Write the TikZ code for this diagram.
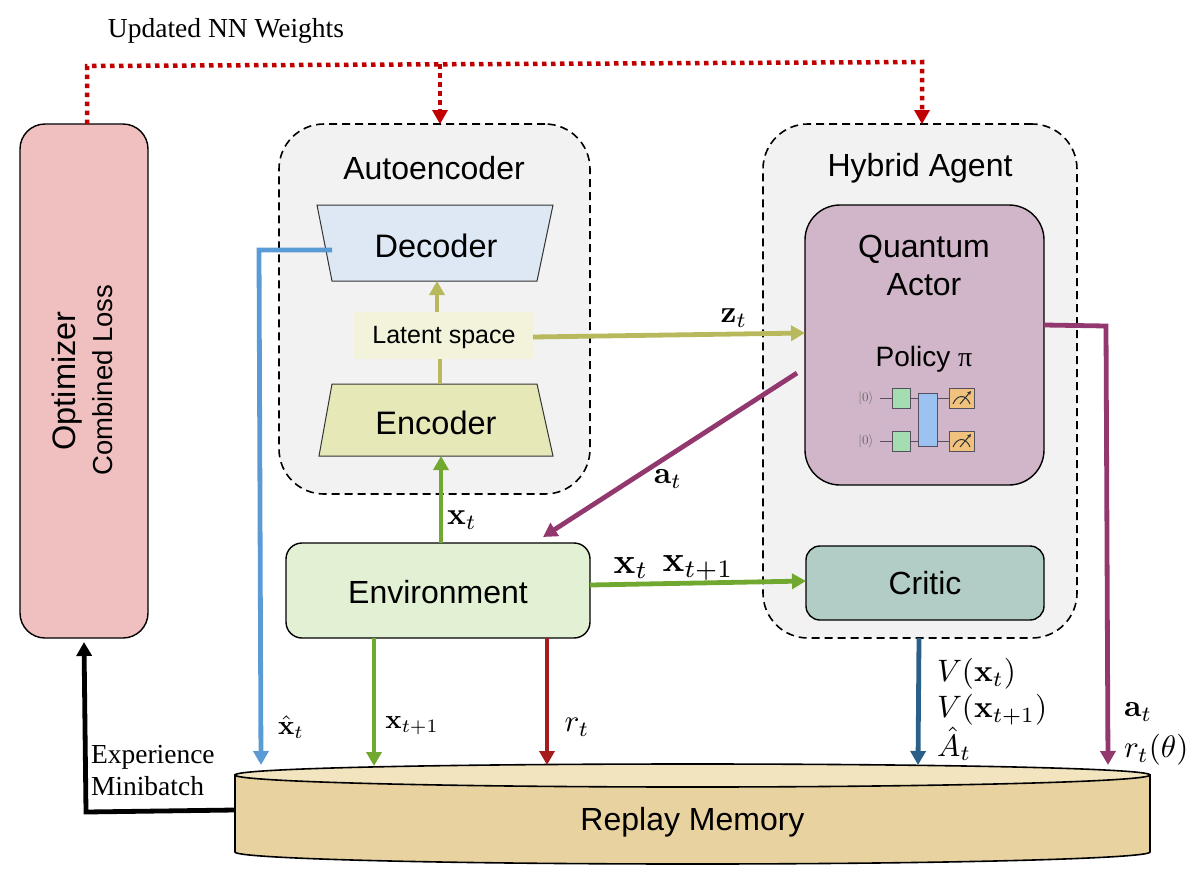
\documentclass[tikz,border=0pt]{standalone}
\usepackage[no-math]{fontspec}
\usepackage{amsmath}
\setmainfont{Liberation Sans}
\newfontfamily\serifface{Liberation Serif}
\usetikzlibrary{arrows.meta,calc}
\definecolor{cOpt}{HTML}{F0BFBF}
\definecolor{cGroup}{HTML}{F2F2F2}
\definecolor{cDec}{HTML}{DEE8F4}
\definecolor{cEnc}{HTML}{E6E8B8}
\definecolor{cLat}{HTML}{F3F3DC}
\definecolor{cAct}{HTML}{D0B6C8}
\definecolor{cCri}{HTML}{B2CDC6}
\definecolor{cEnv}{HTML}{E2F1D3}
\definecolor{cMemS}{HTML}{E8D2A0}
\definecolor{cMemT}{HTML}{F2E4BE}
\definecolor{cRed}{HTML}{C00000}
\definecolor{cBlue}{HTML}{5B9BD5}
\definecolor{cGreen}{HTML}{70A830}
\definecolor{cOlive}{HTML}{B8B85C}
\definecolor{cPurple}{HTML}{93386F}
\definecolor{cDark}{HTML}{A61C1C}
\definecolor{cTeal}{HTML}{2A6088}
\definecolor{cQg}{HTML}{A5DDB0}
\definecolor{cQb}{HTML}{9CC2F2}
\definecolor{cQo}{HTML}{F0C27E}
\definecolor{cWire}{HTML}{555060}
\newcommand{\sanssz}[1]{\fontsize{#1}{#1}\selectfont}
\tikzset{
  x=1pt,y=-1pt,
  box/.style={draw=black,line width=1.4pt,inner sep=0pt,outer sep=0pt,align=center},
  group/.style={draw=black,line width=1.6pt,dash pattern=on 8pt off 5pt,fill=cGroup,rounded corners=45pt,inner sep=0pt,outer sep=0pt},
  ghost/.style={inner sep=0pt,outer sep=0pt,align=center},
  conn/.style={line width=4.8pt,-{Triangle[width=15pt,length=14pt]}},
  lab/.style={inner sep=0pt,outer sep=0pt,scale=2.7},
  labm/.style={inner sep=0pt,outer sep=0pt,scale=3.1},
  labl/.style={inner sep=0pt,outer sep=0pt,scale=3.6},
  note/.style={inner sep=0pt,outer sep=0pt,font=\serifface\sanssz{27.5},align=left},
  red dots/.style={line width=4.5pt,color=cRed,dash pattern=on 4.5pt off 4.5pt},
  qgate/.style={draw=cWire,line width=0.8pt,inner sep=0pt,outer sep=0pt},
  wire/.style={draw=cWire,line width=0.8pt},
}
\begin{document}
\begin{tikzpicture}
\useasboundingbox (0,0) rectangle (1200,876);
% containers
\node[group,minimum width=311pt,minimum height=370pt] (ae) at (434.5,309) {};
\node[group,minimum width=314pt,minimum height=514pt] (ha) at (920,381) {};
\node[ghost,font=\sanssz{32}] (aet) at (434,168) {Autoencoder};
\node[ghost,font=\sanssz{32}] (hat) at (920,168) {Hybrid Agent};
% optimizer
\node[box,fill=cOpt,rounded corners=25pt,minimum width=128pt,minimum height=514pt] (opt) at (84,381) {};
\node[ghost,rotate=90,font=\sanssz{32.5}] (optt) at (67,381) {Optimizer};
\node[ghost,rotate=90,font=\sanssz{27.5}] (optc) at (103,380) {Combined Loss};
% decoder / encoder
\draw[draw=black!80,line width=1pt,fill=cDec] (317,205) -- (553,205) -- (537,281) -- (332,281) -- cycle;
\node[ghost,minimum width=205pt,minimum height=76pt] (dec) at (434.5,243) {};
\node[ghost,font=\sanssz{32.5}] (dect) at (436,246) {Decoder};
\draw[draw=black!80,line width=1pt,fill=cEnc] (332,384) -- (537,384) -- (553,456) -- (319,456) -- cycle;
\node[ghost,minimum width=234pt,minimum height=72pt] (enc) at (436,420) {};
\node[ghost,font=\sanssz{32.5}] (enct) at (436,423) {Encoder};
\node[ghost,fill=cLat,minimum width=179pt,minimum height=47pt] (lat) at (443.5,335) {};
\node[ghost,font=\sanssz{25}] (latt) at (444,337) {Latent space};
% actor
\node[box,fill=cAct,rounded corners=35pt,minimum width=239pt,minimum height=280pt] (act) at (924.5,345) {};
\node[ghost,font=\sanssz{32},align=center] (actt) at (924,265) {Quantum\\[6pt]Actor};
\node[ghost,font=\sanssz{28}] (pol) at (924,359) {Policy \serifface π};
% circuit
\foreach \n/\y in {a/398,b/441}{
  \node[ghost,text=black!60,scale=1.3] (k\n) at (866,\y) {$|0\rangle$};
  \coordinate (wl\n) at (880,\y);
  \node[qgate,fill=cQg,minimum width=18pt,minimum height=20pt] (g\n) at (901,\y) {};
  \node[qgate,fill=cQo,minimum width=25pt,minimum height=20pt] (m\n) at (961.5,\y) {};
  \draw[line width=1pt,black!80] (953,\y+6) .. controls (957,\y-4) and (966,\y-4) .. (970,\y+6);
  \draw[line width=1pt,black!80,-{Stealth[length=4pt,width=4pt]}] (960,\y+6) -- (971,\y-7);
}
\node[qgate,fill=cQb,minimum width=19pt,minimum height=53pt] (cz) at (927.5,419.5) {};
\draw[wire] (wla) -- (ga);
\draw[wire] (wlb) -- (gb);
\draw[wire] (ga.east) -- (ga.east -| cz.west);
\draw[wire] (gb.east) -- (gb.east -| cz.west);
\draw[wire] (ma.west -| cz.east) -- (ma.west);
\draw[wire] (mb.west -| cz.east) -- (mb.west);
% critic / env
\node[box,fill=cCri,rounded corners=14pt,minimum width=238pt,minimum height=74pt,font=\sanssz{32}] (cri) at (925,583) {Critic};
\node[box,fill=cEnv,rounded corners=16pt,minimum width=304pt,minimum height=95pt] (env) at (438,590.5) {};
\node[ghost,font=\sanssz{32}] (envt) at (438,592.5) {Environment};
% replay memory
\draw[line width=1.6pt,fill=cMemS] (235,775) -- (235,852)
  .. controls (235,858.6) and (439.8,864) .. (692.5,864)
  .. controls (945.2,864) and (1150,858.6) .. (1150,852) -- (1150,775) -- cycle;
\draw[line width=1.6pt,fill=cMemT] (235,775)
  .. controls (235,768.4) and (439.8,764) .. (692.5,764)
  .. controls (945.2,764) and (1150,768.4) .. (1150,775)
  .. controls (1150,781.6) and (945.2,787) .. (692.5,787)
  .. controls (439.8,787) and (235,781.6) .. (235,775) -- cycle;
\node[ghost,font=\sanssz{32}] (mem) at (692.5,822) {Replay Memory};
% named free ends
\coordinate (mBlue) at (261,765);
\coordinate (mGreen) at (374,766);
\coordinate (mRed) at (547,765);
\coordinate (mTeal) at (918,765);
\coordinate (mPurp) at (1108,765);
\coordinate (mOut) at (235,810);
\coordinate (optIn) at (84,642);
\coordinate (bk) at (86,812);
\coordinate (r0) at (87,124);
\coordinate (r1) at (87,66);
\coordinate (r2) at (440,64);
\coordinate (r3) at (922,62);
\coordinate (rA) at (440,124);
\coordinate (rH) at (922,124);
\coordinate (b0) at (332,250);
\coordinate (b1) at (259,250);
\coordinate (p0) at (1044,325);
\coordinate (p1) at (1106,326);
\coordinate (a0) at (797,373);
\coordinate (a1) at (543,537);
\coordinate (e0) at (590,585);
\coordinate (c0) at (806,581);
\coordinate (z0) at (533,337);
\coordinate (z1) at (805,333);
\coordinate (h0) at (919,638);
\coordinate (g0) at (441,543);
\coordinate (dIn) at (437,281);
% connectors
\draw[red dots] (r0) -- (r1) -- (r3) -- ($(rH)+(0,-13)$);
\draw[red dots] (r2) -- ($(rA)+(0,-13)$);
\fill[cRed] (rA) -- ++(-8,-14) -- ++(16,0) -- cycle;
\fill[cRed] (rH) -- ++(-8,-14) -- ++(16,0) -- cycle;
\draw[conn,cBlue] (b0) -- (b1) -- (mBlue);
\draw[conn,cGreen] (g0) -- ([xshift=5pt]enc.south);
\draw[line width=4.8pt,cOlive] ([xshift=4pt]enc.north) -- ([xshift=-3.5pt]lat.south);
\draw[conn,cOlive] ([xshift=-6.5pt]lat.north) -- (dIn);
\draw[conn,cOlive] (z0) -- (z1);
\draw[conn,cPurple] (a0) -- (a1);
\draw[conn,cPurple] (p0) -- (p1) -- (mPurp);
\draw[conn,cGreen] (e0) -- (c0);
\draw[conn,cGreen] (env.south -| mGreen) -- (mGreen);
\draw[conn,cDark] (env.south -| mRed) -- (mRed);
\draw[conn,cTeal] (h0) -- (mTeal);
\draw[conn,black] (mOut) -- (bk) -- (optIn);
% labels
\node[note] (upd) at (226,31) {Updated NN Weights};
\node[note,anchor=north west] (exp) at (91,745) {Experience\\[5pt]Minibatch};
\node[labm] (lxt) at (462,520) {$\mathbf{x}_t$};
\node[labm] (lzt) at (734,318) {$\mathbf{z}_t$};
\node[labm] (lat2) at (668,479) {$\mathbf{a}_t$};
\node[labl] (lx2) at (631,568) {$\mathbf{x}_t$};
\node[labl] (lx3) at (698,568) {$\mathbf{x}_{t+1}$};
\node[lab] (lhx) at (291,727) {$\hat{\mathbf{x}}_t$};
\node[lab] (lxn) at (412,726) {$\mathbf{x}_{t+1}$};
\node[labm] (lrt) at (577,727) {$r_t$};
\node[labm,anchor=west] (lv1) at (937,674) {$V(\mathbf{x}_t)$};
\node[labm,anchor=west] (lv2) at (937,710) {$V(\mathbf{x}_{t+1})$};
\node[labm,anchor=base west] (lv3) at (937,756) {\smash[t]{$\hat{A}_t$}};
\node[labm,anchor=west] (lat3) at (1124,712) {$\mathbf{a}_t$};
\node[labm,anchor=west] (lrth) at (1124,750) {$r_t(\theta)$};
\end{tikzpicture}
\end{document}
